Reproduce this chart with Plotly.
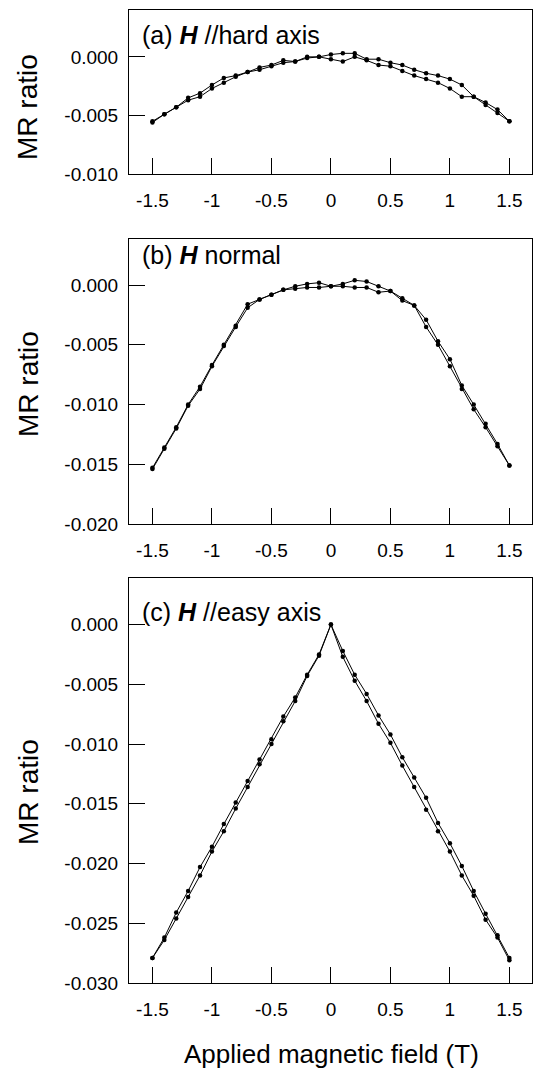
import plotly.graph_objects as go

# ---------------- data ----------------
field_T = [-1.5, -1.4, -1.3, -1.2, -1.1, -1.0, -0.9, -0.8, -0.7, -0.6, -0.5,
           -0.4, -0.3, -0.2, -0.1, 0.0, 0.1, 0.2, 0.3, 0.4, 0.5,
           0.6, 0.7, 0.8, 0.9, 1.0, 1.1, 1.2, 1.3, 1.4, 1.5]

# (a) H // hard axis
hard_a = [-0.0056, -0.0049, -0.0043, -0.0035, -0.0031, -0.0024, -0.0018, -0.0016, -0.0013, -0.0009, -0.0007,
          -0.0003, -0.0004, 0.0000, 0.0000, 0.0002, 0.0003, 0.0003, -0.0002, -0.0002, -0.0005,
          -0.0007, -0.0011, -0.0014, -0.0016, -0.0019, -0.0024, -0.0034, -0.0039, -0.0045, -0.0055]
hard_b = [-0.0055, -0.0049, -0.0043, -0.0037, -0.0034, -0.0027, -0.0022, -0.0017, -0.0013, -0.0011, -0.0008,
          -0.0005, -0.0004, -0.0001, 0.0000, -0.0002, -0.0004, 0.0000, -0.0003, -0.0007, -0.0008,
          -0.0012, -0.0016, -0.0019, -0.0022, -0.0027, -0.0034, -0.0034, -0.0041, -0.0048, -0.0055]

# (b) H normal
normal_a = [-0.0153, -0.0136, -0.0119, -0.0100, -0.0085, -0.0067, -0.0050, -0.0034, -0.0016, -0.0012, -0.0008,
            -0.0004, -0.0001, 0.0001, 0.0002, -0.0001, 0.0001, 0.0004, 0.0003, -0.0001, -0.0005,
            -0.0011, -0.0017, -0.0029, -0.0047, -0.0062, -0.0084, -0.0100, -0.0116, -0.0133, -0.0151]
normal_b = [-0.0154, -0.0137, -0.0120, -0.0101, -0.0087, -0.0068, -0.0051, -0.0035, -0.0019, -0.0012, -0.0008,
            -0.0004, -0.0003, -0.0002, -0.0002, -0.0001, -0.0001, -0.0002, -0.0002, -0.0006, -0.0005,
            -0.0013, -0.0017, -0.0035, -0.0050, -0.0068, -0.0087, -0.0104, -0.0119, -0.0135, -0.0151]

# (c) H // easy axis
easy_a = [-0.0279, -0.0262, -0.0241, -0.0223, -0.0203, -0.0186, -0.0167, -0.0149, -0.0131, -0.0113, -0.0096,
          -0.0077, -0.0061, -0.0042, -0.0025, 0.0000, -0.0022, -0.0042, -0.0058, -0.0076, -0.0092,
          -0.0111, -0.0128, -0.0145, -0.0166, -0.0183, -0.0202, -0.0223, -0.0242, -0.0260, -0.0279]
easy_b = [-0.0279, -0.0264, -0.0246, -0.0228, -0.0210, -0.0190, -0.0173, -0.0154, -0.0136, -0.0117, -0.0100,
          -0.0081, -0.0064, -0.0043, -0.0026, 0.0000, -0.0027, -0.0047, -0.0064, -0.0083, -0.0099,
          -0.0118, -0.0136, -0.0155, -0.0173, -0.0190, -0.0210, -0.0227, -0.0247, -0.0262, -0.0281]

x_tickvals = [-1.5, -1, -0.5, 0, 0.5, 1, 1.5]
x_ticktext = ["-1.5", "-1", "-0.5", "0", "0.5", "1", "1.5"]

ya_tickvals = [0.0, -0.005, -0.010]
ya_ticktext = ["0.000", "-0.005", "-0.010"]
yb_tickvals = [0.0, -0.005, -0.010, -0.015, -0.020]
yb_ticktext = ["0.000", "-0.005", "-0.010", "-0.015", "-0.020"]
yc_tickvals = [0.0, -0.005, -0.010, -0.015, -0.020, -0.025, -0.030]
yc_ticktext = ["0.000", "-0.005", "-0.010", "-0.015", "-0.020", "-0.025", "-0.030"]

panel_labels = ["(a) <b><i>H</i></b> //hard axis",
                "(b) <b><i>H</i></b> normal",
                "(c) <b><i>H</i></b> //easy axis"]
y_title = "MR ratio"
x_title = "Applied magnetic field (T)"

# ---------------- figure ----------------
# the page body adds an 8px offset, so the figure is 8px smaller and all
# target positions below (given in window pixels) are shifted by OFF.
OFF = 8
FONT = "Liberation Sans, Arial, sans-serif"
W, H = 541 - OFF, 1068 - OFF
ML, MR, MT, MB = 129 - OFF, 9, 10 - OFF, 1068 - 983
PW = W - ML - MR
PH = H - MT - MB

def py2paper(px):
    return 1 - (px - OFF - MT) / PH

def px2paper(px):
    return (px - OFF - ML) / PW

def ydom(top_px, bot_px):
    return [py2paper(bot_px), py2paper(top_px)]

panels = [
    dict(series=(hard_a, hard_b), dom=ydom(10, 174), yr=[-0.010, 0.0040],
         tv=ya_tickvals, tt=ya_ticktext, label_y=35, title_y=107),
    dict(series=(normal_a, normal_b), dom=ydom(238.5, 524), yr=[-0.020, 0.0039],
         tv=yb_tickvals, tt=yb_ticktext, label_y=255, title_y=384),
    dict(series=(easy_a, easy_b), dom=ydom(578, 983), yr=[-0.030, 0.0039],
         tv=yc_tickvals, tt=yc_ticktext, label_y=612, title_y=792),
]

fig = go.Figure()
layout = dict(
    width=W, height=H,
    margin=dict(l=ML, r=MR, t=MT, b=MB),
    paper_bgcolor="white", plot_bgcolor="white",
    showlegend=False,
    font=dict(family=FONT, color="black"),
)
annotations = []

for i, p in enumerate(panels, start=1):
    xa = "x" if i == 1 else f"x{i}"
    ya = "y" if i == 1 else f"y{i}"
    for s in p["series"]:
        fig.add_trace(go.Scatter(
            x=field_T, y=s, xaxis=xa, yaxis=ya, mode="lines+markers",
            line=dict(color="black", width=1),
            marker=dict(color="black", size=4.5, symbol="circle"),
            hoverinfo="skip"))
    layout["xaxis" if i == 1 else f"xaxis{i}"] = dict(
        domain=[0, 1], anchor=ya, range=[-1.697, 1.69],
        tickvals=x_tickvals, ticktext=x_ticktext,
        ticks="inside", ticklen=16, tickwidth=1, tickcolor="black",
        showline=True, linecolor="black", linewidth=1, mirror=True,
        showgrid=False, zeroline=False, automargin=False,
        tickfont=dict(size=19, family=FONT, color="black"),
        ticklabelstandoff=9,
    )
    layout["yaxis" if i == 1 else f"yaxis{i}"] = dict(
        domain=p["dom"], anchor=xa, range=p["yr"],
        tickvals=p["tv"], ticktext=p["tt"],
        ticks="inside", ticklen=16, tickwidth=1, tickcolor="black",
        showline=True, linecolor="black", linewidth=1, mirror=True,
        showgrid=False, zeroline=False, automargin=False,
        tickfont=dict(size=19, family=FONT, color="black"),
        ticklabelstandoff=6,
    )
    annotations.append(dict(
        text=panel_labels[i - 1], xref="paper", yref="paper",
        x=px2paper(140), y=py2paper(p["label_y"]),
        xanchor="left", yanchor="middle", showarrow=False,
        font=dict(size=25, family=FONT, color="black")))
    annotations.append(dict(
        text=y_title, xref="paper", yref="paper",
        x=px2paper(28), y=py2paper(p["title_y"]),
        xanchor="center", yanchor="middle", textangle=-90, showarrow=False,
        font=dict(size=28, family=FONT, color="black")))

annotations.append(dict(
    text=x_title, xref="paper", yref="paper",
    x=px2paper(331), y=py2paper(1054),
    xanchor="center", yanchor="middle", showarrow=False,
    font=dict(size=26, family=FONT, color="black")))

layout["annotations"] = annotations
fig.update_layout(**layout)
fig.write_html("out.html")
